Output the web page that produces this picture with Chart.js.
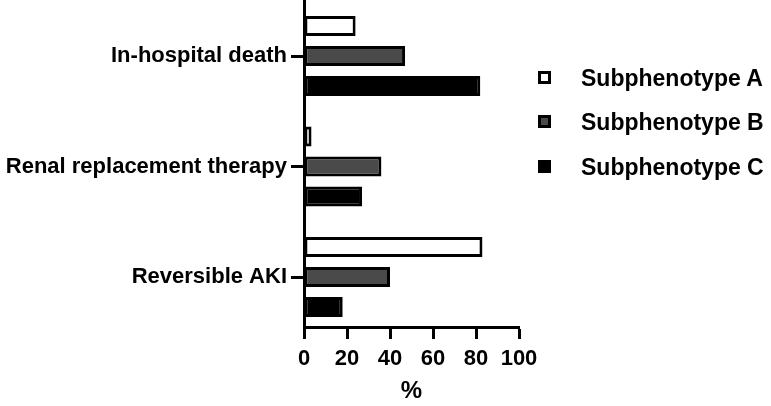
<!DOCTYPE html>
<html>
<head>
<meta charset="utf-8">
<script src="https://cdn.jsdelivr.net/npm/chart.js@4"></script>
<style>
  html, body { margin: 0; padding: 0; background: #fff; }
  #wrap { position: relative; width: 771px; height: 406px; }
  #legend { position: absolute; left: 538px; top: 0; font-family: "Liberation Sans", Arial, sans-serif; font-weight: bold; font-size: 23px; color: #000; }
  .item { position: absolute; white-space: nowrap; height: 26px; line-height: 26px; }
  .box { position: absolute; left: 0; top: 6px; width: 13px; height: 13px; box-sizing: border-box; border: 3px solid #000; }
  .txt { position: absolute; left: 43px; top: 0; }
</style>
</head>
<body>
<div id="wrap">
  <canvas id="c" width="771" height="406"></canvas>
  <div id="legend"></div>
</div>
<script>
const categories = ["In-hospital death", "Renal replacement therapy", "Reversible AKI"];
const seriesNames = ["Subphenotype A", "Subphenotype B", "Subphenotype C"];
const subphenotypeA = [24, 3.5, 83];
const subphenotypeB = [47, 36, 40];
const subphenotypeC = [82, 27, 18];
const xTicks = [0, 20, 40, 60, 80, 100];
const axisTitle = "%";

const fills = ["#ffffff", "#4a4a4a", "#000000"];
const seriesValues = [subphenotypeA, subphenotypeB, subphenotypeC];
const FONT = "'Liberation Sans', Arial, sans-serif";

const datasets = seriesNames.map((name, i) => ({
  label: name,
  data: seriesValues[i],
  backgroundColor: fills[i],
  borderColor: "#000000",
  borderWidth: 3,
  borderSkipped: false,
  categoryPercentage: 0.815,
  barPercentage: 0.667
}));

new Chart(document.getElementById("c"), {
  type: "bar",
  data: { labels: categories, datasets },
  options: {
    indexAxis: "y",
    responsive: false,
    animation: false,
    layout: { padding: { top: 0, right: 252, bottom: 0, left: 0 } },
    plugins: { legend: { display: false }, tooltip: { enabled: false } },
    scales: {
      x: {
        min: 0, max: 100,
        afterBuildTicks: (scale) => { scale.ticks = xTicks.map(v => ({ value: v })); },
        afterFit: (scale) => { scale.height = 79; },
        grid: { drawOnChartArea: false, drawTicks: true, tickLength: 12, tickWidth: 3, tickColor: "#000" },
        border: { display: true, color: "#000", width: 3 },
        ticks: { color: "#000", padding: 7, font: { family: FONT, weight: "bold", size: 22 } },
        title: { display: true, text: axisTitle, color: "#000", padding: { top: 0, bottom: 0 }, font: { family: FONT, weight: "bold", size: 24 } }
      },
      y: {
        offset: false,
        afterBuildTicks: (scale) => {
          // slightly asymmetric category spacing as in the reference
          scale._startValue = -0.507;
          scale._valueRange = 2.959;
        },
        afterFit: (scale) => { scale.width = 304; scale.paddingTop = 0; scale.paddingBottom = 0; },
        grid: { offset: false, drawOnChartArea: false, drawTicks: true, tickLength: 13, tickWidth: 3, tickColor: "#000" },
        border: { display: true, color: "#000", width: 3 },
        ticks: { color: "#000", padding: 4, font: { family: FONT, weight: "bold", size: 22 } }
      }
    }
  }
});

// HTML legend built from series arrays
const legend = document.getElementById("legend");
const legendY = [65, 109, 154];
seriesNames.forEach((name, i) => {
  const it = document.createElement("div");
  it.className = "item";
  it.style.top = legendY[i] + "px";
  const b = document.createElement("div");
  b.className = "box";
  b.style.background = fills[i];
  const t = document.createElement("div");
  t.className = "txt";
  t.textContent = name;
  it.appendChild(b); it.appendChild(t);
  legend.appendChild(it);
});
</script>
</body>
</html>
